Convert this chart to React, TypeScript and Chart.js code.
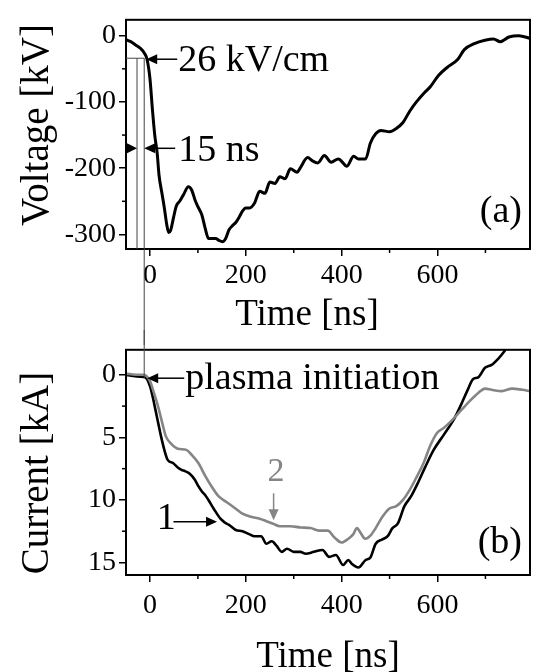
import React, { useEffect, useRef } from 'react';
import { Chart, registerables } from 'chart.js';
Chart.register(...registerables);

const FONT = "'Liberation Serif', 'Times New Roman', Times, serif";
const GRAY = '#858585';

// Panel (a): voltage
const timeV = [-50, -40, -30, -20, -12, -6, 0, 5, 10, 15, 19, 25, 30, 35, 39, 43, 49, 55, 62, 70, 80, 87, 95, 100, 108, 115, 122, 130, 137, 144, 151, 158, 165, 172, 179, 186, 193, 200, 208, 218, 229, 240, 250, 261, 271, 282, 293, 307, 314, 329, 339, 350, 364, 378, 393, 411, 425, 435, 450, 460, 471, 482, 500, 514, 528, 542, 556, 574, 585, 602, 620, 642, 656, 677, 699, 717, 731, 749, 770, 793];
const voltage = [-6, -9, -14, -19, -26, -36, -65, -110, -150, -177, -211, -238, -260, -285, -297, -294, -275, -257, -250, -240, -228, -233, -250, -258, -270, -290, -306, -306, -306, -309, -311, -306, -293, -287, -282, -274, -265, -260, -260, -253, -235, -238, -221, -223, -213, -216, -201, -206, -199, -184, -189, -192, -181, -191, -186, -197, -182, -186, -186, -162, -148, -143, -145, -140, -131, -114, -100, -85, -77, -60, -48, -36, -21, -12, -7, -5, -9, -2, 0, -4];

// Panel (b): current, curve 1 (black)
const time1 = [-50, -35, -20, -10, 0, 6, 12, 18, 23, 30, 37, 48, 58, 66, 73, 83, 94, 101, 108, 115, 122, 133, 147, 156, 165, 179, 193, 208, 218, 232, 243, 254, 264, 275, 286, 300, 314, 325, 342, 360, 374, 388, 403, 414, 421, 435, 450, 460, 471, 485, 496, 506, 517, 531, 545, 560, 574, 592, 613, 635, 649, 663, 674, 685, 699, 713, 727, 738, 745];
const current1 = [0, 0.1, 0.15, 0.2, 0.9, 1.8, 2.9, 4.0, 4.9, 6.0, 6.8, 7.05, 7.4, 7.6, 7.7, 7.9, 8.4, 8.9, 9.3, 9.6, 10.0, 10.7, 11.5, 11.8, 12.0, 12.4, 12.5, 12.75, 12.9, 12.9, 13.5, 13.3, 13.65, 14.15, 13.9, 14.15, 14.15, 14.3, 14.15, 14.0, 14.55, 14.4, 15.2, 14.8, 15.1, 15.4, 14.8, 14.6, 13.5, 13.15, 12.9, 12.25, 11.9, 10.5, 9.7, 8.57, 7.4, 6.0, 4.8, 3.5, 2.4, 1.2, 0.35, 0.2, -0.56, -0.8, -1.3, -1.8, -2.2];

// Panel (b): current, curve 2 (gray)
const time2 = [-50, -30, -13, 0, 8, 16, 26, 33, 44, 58, 76, 87, 101, 115, 129, 143, 161, 179, 193, 211, 229, 243, 257, 271, 293, 314, 335, 353, 371, 385, 400, 414, 424, 432, 439, 449, 460, 471, 485, 499, 514, 528, 542, 556, 571, 585, 599, 613, 631, 649, 667, 685, 699, 713, 734, 756, 777, 793];
const current2 = [-0.1, 0, 0, 0.5, 1.4, 2.4, 3.9, 4.9, 5.5, 5.9, 6.0, 6.4, 7.05, 8.05, 8.95, 9.7, 10.2, 10.7, 11.1, 11.35, 11.5, 11.7, 11.9, 12.1, 12.1, 12.2, 12.25, 12.45, 12.45, 13.0, 13.4, 13.1, 12.75, 12.25, 12.6, 13.1, 12.85, 12.25, 11.35, 10.7, 10.5, 10.0, 9.2, 8.2, 7.05, 5.65, 4.65, 4.25, 3.6, 2.85, 2.1, 1.45, 1.1, 1.2, 1.3, 1.1, 1.2, 1.3];

// Axes
const timeTicks = [0, 200, 400, 600];
const timeMinor = [100, 300, 500, 700];
const voltTicks = [0, -100, -200, -300];
const voltMinor = [-50, -150, -250];
const currTicks = [0, 5, 10, 15];
const currMinor = [2.5, 7.5, 12.5];

// Annotation anchors (data units)
const T_START = -27;
const T_INIT = -12;
const V_THRESH = -34;
const V_15NS = -170;
const I_INIT = 0.27;

function line(ctx: CanvasRenderingContext2D, x1: number, y1: number, x2: number, y2: number) {
  ctx.beginPath();
  ctx.moveTo(x1, y1);
  ctx.lineTo(x2, y2);
  ctx.stroke();
}

function arrowHead(ctx: CanvasRenderingContext2D, tipX: number, tipY: number, dir: 'left' | 'right' | 'down', len = 10, half = 5) {
  ctx.beginPath();
  if (dir === 'left') {
    ctx.moveTo(tipX, tipY);
    ctx.lineTo(tipX + len, tipY - half);
    ctx.lineTo(tipX + len, tipY + half);
  } else if (dir === 'right') {
    ctx.moveTo(tipX, tipY);
    ctx.lineTo(tipX - len, tipY - half);
    ctx.lineTo(tipX - len, tipY + half);
  } else {
    ctx.moveTo(tipX, tipY);
    ctx.lineTo(tipX - half, tipY - len);
    ctx.lineTo(tipX + half, tipY - len);
  }
  ctx.closePath();
  ctx.fill();
}

function drawFrameAndMinor(chart: any, xMinor: number[], yMinor: number[]) {
  const { ctx, chartArea } = chart;
  const { left, right, top, bottom } = chartArea;
  const x = chart.scales.x;
  const y = chart.scales.y;
  ctx.strokeStyle = '#000';
  ctx.lineWidth = 2;
  ctx.strokeRect(left, top, right - left, bottom - top);
  ctx.lineWidth = 1.5;
  xMinor.forEach((v) => {
    const p = x.getPixelForValue(v);
    line(ctx, p, bottom, p, bottom + 4);
  });
  yMinor.forEach((v) => {
    const p = y.getPixelForValue(v);
    line(ctx, left, p, left - 4, p);
  });
}

function text(ctx: CanvasRenderingContext2D, s: string, x: number, y: number, size: number, align: CanvasTextAlign, color = '#000') {
  ctx.font = `${size}px ${FONT}`;
  ctx.fillStyle = color;
  ctx.textAlign = align;
  ctx.textBaseline = 'alphabetic';
  ctx.fillText(s, x, y);
}

function vTitle(ctx: CanvasRenderingContext2D, s: string, x: number, y: number, size: number) {
  ctx.save();
  ctx.translate(x, y);
  ctx.rotate(-Math.PI / 2);
  text(ctx, s, 0, 0, size, 'center');
  ctx.restore();
}

const panelAPlugin = {
  id: 'panelA',
  afterDraw(chart: any) {
    const { ctx, chartArea } = chart;
    const x = chart.scales.x;
    const y = chart.scales.y;
    ctx.save();
    drawFrameAndMinor(chart, timeMinor, voltMinor);
    const xs = x.getPixelForValue(T_START);
    const xi = x.getPixelForValue(T_INIT);
    const yt = y.getPixelForValue(V_THRESH);
    // thin marker lines
    ctx.strokeStyle = '#444';
    ctx.lineWidth = 1;
    line(ctx, chartArea.left, yt, xi, yt);
    line(ctx, xs, yt, xs, chartArea.bottom);
    line(ctx, xi, yt, xi, chart.height);
    // arrows
    ctx.strokeStyle = '#000';
    ctx.fillStyle = '#000';
    ctx.lineWidth = 1.5;
    line(ctx, xi + 10, yt + 1, xi + 33, yt + 1);
    arrowHead(ctx, xi + 2, yt + 1, 'left', 11, 5);
    const y15 = y.getPixelForValue(V_15NS);
    arrowHead(ctx, xs, y15, 'right', 10, 5);
    line(ctx, xi + 10, y15, xi + 31, y15);
    arrowHead(ctx, xi, y15, 'left', 11, 5);
    // labels
    text(ctx, '26 kV/cm', xi + 34, yt + 13, 38, 'left');
    text(ctx, '15 ns', xi + 34, y15 + 13, 38, 'left');
    text(ctx, '(a)', chartArea.right - 8, 222, 38, 'right');
    // axis titles
    vTitle(ctx, 'Voltage [kV]', 48, 125, 39);
    text(ctx, 'Time [ns]', 307, 325, 37, 'center');
    ctx.restore();
  },
};

const panelBPlugin = {
  id: 'panelB',
  afterDraw(chart: any) {
    const { ctx, chartArea } = chart;
    const x = chart.scales.x;
    const y = chart.scales.y;
    ctx.save();
    drawFrameAndMinor(chart, timeMinor, currMinor);
    const xi = x.getPixelForValue(T_INIT);
    const yi = y.getPixelForValue(I_INIT);
    ctx.strokeStyle = '#444';
    ctx.lineWidth = 1;
    line(ctx, xi, 0, xi, yi);
    ctx.strokeStyle = '#000';
    ctx.fillStyle = '#000';
    ctx.lineWidth = 1.5;
    line(ctx, xi + 12, yi, xi + 40, yi);
    arrowHead(ctx, xi + 3, yi, 'left', 11, 5);
    text(ctx, 'plasma initiation', xi + 41, yi + 11, 38, 'left');
    // label 1
    const a1y = y.getPixelForValue(11.75);
    const a1x0 = x.getPixelForValue(49);
    const a1x1 = x.getPixelForValue(140);
    line(ctx, a1x0, a1y, a1x1 - 8, a1y);
    arrowHead(ctx, a1x1, a1y, 'right', 11, 5);
    text(ctx, '1', x.getPixelForValue(34), y.getPixelForValue(12.36), 38, 'center');
    // label 2
    ctx.strokeStyle = GRAY;
    ctx.fillStyle = GRAY;
    const a2x = x.getPixelForValue(258);
    const a2y0 = y.getPixelForValue(9.47);
    const a2y1 = y.getPixelForValue(11.62);
    line(ctx, a2x, a2y0, a2x, a2y1 - 8);
    arrowHead(ctx, a2x, a2y1, 'down', 11, 5);
    text(ctx, '2', x.getPixelForValue(263), y.getPixelForValue(8.45), 34, 'center', GRAY);
    text(ctx, '(b)', chartArea.right - 8, 223, 38, 'right');
    vTitle(ctx, 'Current [kA]', 48, 143, 39);
    text(ctx, 'Time [ns]', 328, 337, 37, 'center');
    ctx.restore();
  },
};

function scaleX(height: number, pad: number) {
  return {
    type: 'linear' as const,
    min: -50,
    max: 793,
    afterBuildTicks: (s: any) => {
      s.ticks = timeTicks.map((v) => ({ value: v }));
    },
    afterFit: (s: any) => {
      s.height = height;
    },
    grid: { drawOnChartArea: false, drawTicks: true, tickLength: 7, color: '#000', lineWidth: 1.5 },
    border: { display: false },
    ticks: { font: { family: FONT, size: 28 }, color: '#000', padding: pad, maxRotation: 0, autoSkip: false, callback: (v: any) => String(v) },
  };
}

function scaleY(min: number, max: number, ticks: number[], reverse: boolean) {
  return {
    type: 'linear' as const,
    min,
    max,
    reverse,
    afterBuildTicks: (s: any) => {
      s.ticks = ticks.map((v) => ({ value: v }));
    },
    afterFit: (s: any) => {
      s.width = 126;
    },
    grid: { drawOnChartArea: false, drawTicks: true, tickLength: 7, color: '#000', lineWidth: 1.5 },
    border: { display: false },
    ticks: { font: { family: FONT, size: 28 }, color: '#000', padding: 3, autoSkip: false, callback: (v: any) => String(v) },
  };
}

export default function App() {
  const refA = useRef<HTMLCanvasElement>(null);
  const refB = useRef<HTMLCanvasElement>(null);

  useEffect(() => {
    const chartA = new Chart(refA.current!, {
      type: 'line',
      data: {
        datasets: [
          {
            data: timeV.map((t, i) => ({ x: t, y: voltage[i] })),
            borderColor: '#000',
            borderWidth: 3,
            pointRadius: 0,
            cubicInterpolationMode: 'monotone',
            fill: false,
          },
        ],
      },
      options: {
        animation: false,
        responsive: false,
        devicePixelRatio: 1,
        layout: { padding: { top: 12, right: 6, left: 0, bottom: 0 } },
        plugins: { legend: { display: false }, tooltip: { enabled: false } },
        scales: { x: scaleX(96, 3), y: scaleY(-322, 24, voltTicks, false) },
      },
      plugins: [panelAPlugin],
    } as any);

    const chartB = new Chart(refB.current!, {
      type: 'line',
      data: {
        datasets: [
          {
            data: time2.map((t, i) => ({ x: t, y: current2[i] })),
            borderColor: GRAY,
            borderWidth: 2.6,
            pointRadius: 0,
            cubicInterpolationMode: 'monotone',
            fill: false,
          },
          {
            data: time1.map((t, i) => ({ x: t, y: current1[i] })),
            borderColor: '#000',
            borderWidth: 2.6,
            pointRadius: 0,
            cubicInterpolationMode: 'monotone',
            fill: false,
          },
        ],
      },
      options: {
        animation: false,
        responsive: false,
        devicePixelRatio: 1,
        layout: { padding: { top: 9, right: 6, left: 0, bottom: 0 } },
        plugins: { legend: { display: false }, tooltip: { enabled: false } },
        scales: { x: scaleX(97, 7), y: scaleY(-2, 16, currTicks, true) },
      },
      plugins: [panelBPlugin],
    } as any);

    return () => {
      chartA.destroy();
      chartB.destroy();
    };
  }, []);

  return (
    <div style={{ position: 'fixed', left: 0, top: 0, width: 536, height: 672, background: '#fff', overflow: 'hidden' }}>
      <canvas ref={refA} width={536} height={345} style={{ position: 'absolute', left: 0, top: 0, width: 536, height: 345 }} />
      <canvas ref={refB} width={536} height={342} style={{ position: 'absolute', left: 0, top: 330, width: 536, height: 342 }} />
    </div>
  );
}
